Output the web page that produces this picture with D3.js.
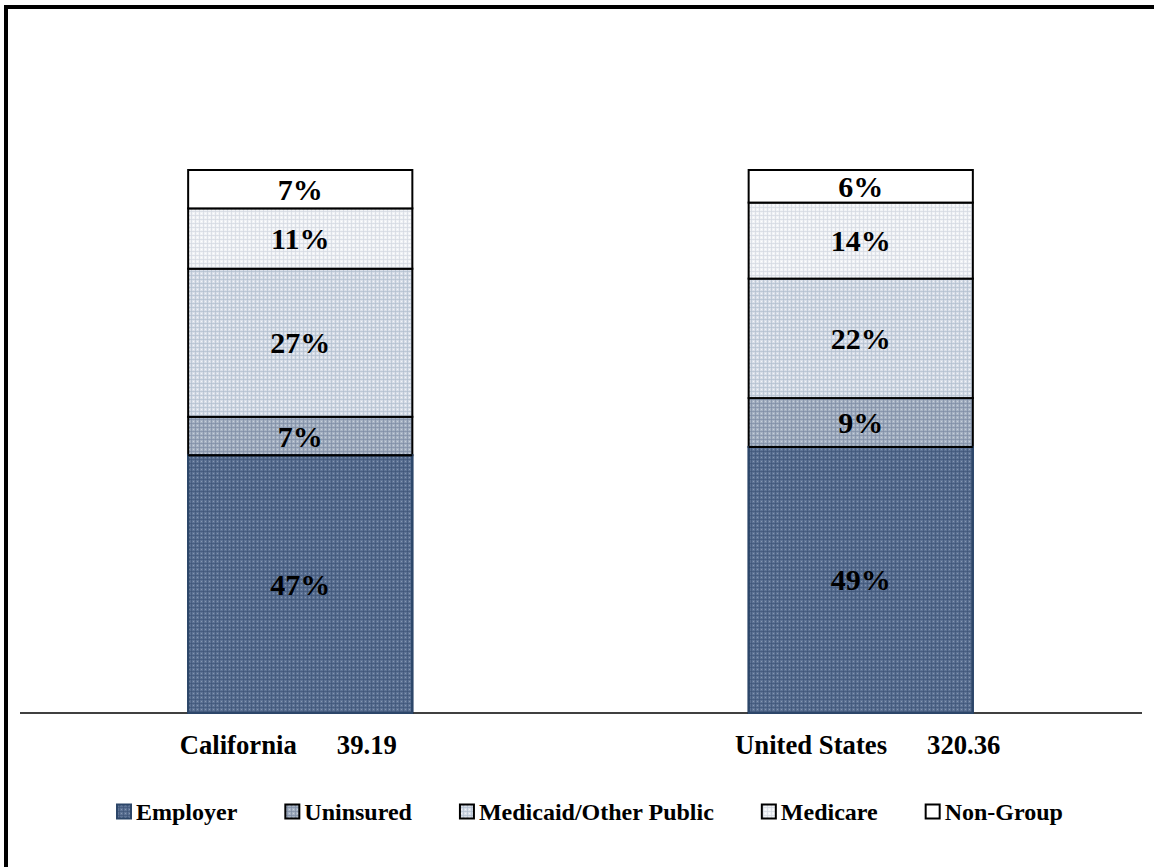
<!DOCTYPE html>
<html>
<head>
<meta charset="utf-8">
<script src="https://cdn.jsdelivr.net/npm/d3@7"></script>
<style>
  html, body { margin: 0; padding: 0; background: #fff; }
  svg { display: block; }
  text { font-family: "Times New Roman", "Liberation Serif", serif; font-weight: bold; fill: #000; }
</style>
</head>
<body>
<svg id="chart" width="1154" height="867"></svg>
<script>
// Coverage categories, bottom of the stack first
const series = ["Employer", "Uninsured", "Medicaid/Other Public", "Medicare", "Non-Group"];
const regions = ["California", "United States"];
const totals = ["39.19", "320.36"];   // population, millions
const employer = [47, 49];
const uninsured = [7, 9];
const medicaid = [27, 22];
const medicare = [11, 14];
const nonGroup = [7, 6];

const W = 1154, H = 867;
const svg = d3.select("#chart");

// Fill patterns for each coverage type
const fills = [
  { id: "pEmployer", base: "#5d7395", line: "#3f5679", dot: "#8797b1", stroke: "#2c4669" },
  { id: "pUninsured", base: "#a6b2c3", line: "#7f8ea5", dot: "#c7d0dc", stroke: "#000" },
  { id: "pMedicaid", base: "#d8dee8", line: "#b3bfcf", dot: "#f3f5f8", stroke: "#000" },
  { id: "pMedicare", base: "#f1f3f6", line: "#d3d9e2", dot: "#ffffff", stroke: "#000" },
  { id: "pNonGroup", base: "#ffffff", line: null, dot: null, stroke: "#000" }
];
const defs = svg.append("defs");
fills.forEach(f => {
  const p = defs.append("pattern").attr("id", f.id)
    .attr("patternUnits", "userSpaceOnUse").attr("width", 4).attr("height", 4);
  p.append("rect").attr("width", 4).attr("height", 4).attr("fill", f.base);
  if (f.line) {
    p.append("rect").attr("x", 0).attr("y", 3).attr("width", 4).attr("height", 1).attr("fill", f.line).attr("opacity", 0.7);
    p.append("rect").attr("x", 3).attr("y", 0).attr("width", 1).attr("height", 4).attr("fill", f.line).attr("opacity", 0.7);
    p.append("rect").attr("x", 1).attr("y", 1).attr("width", 1).attr("height", 1).attr("fill", f.dot);
  }
});

// Frame (top and left edges)
svg.append("line").attr("x1", 4).attr("x2", W).attr("y1", 7).attr("y2", 7).attr("stroke", "#000").attr("stroke-width", 4);
svg.append("line").attr("x1", 6).attr("x2", 6).attr("y1", 5).attr("y2", H).attr("stroke", "#000").attr("stroke-width", 4);

// Scales
const x = d3.scaleBand().domain(regions).range([20, 1141]).paddingInner(0.6).paddingOuter(0.3);
const y = d3.scaleLinear().domain([0, 1]).range([713, 170]);

// Stack rows, normalised to 100% per region
const rows = regions.map((r, i) => ({
  region: r,
  "Employer": employer[i],
  "Uninsured": uninsured[i],
  "Medicaid/Other Public": medicaid[i],
  "Medicare": medicare[i],
  "Non-Group": nonGroup[i]
}));
const stacked = d3.stack().keys(series).offset(d3.stackOffsetExpand)(rows);
const rawStack = d3.stack().keys(series)(rows);

const layers = svg.append("g").selectAll("g").data(stacked).join("g")
  .attr("fill", (d, i) => `url(#${fills[i].id})`)
  .attr("stroke", (d, i) => fills[i].stroke);

layers.selectAll("rect").data(d => d).join("rect")
  .attr("x", d => x(d.data.region))
  .attr("width", x.bandwidth())
  .attr("y", d => y(d[1]))
  .attr("height", d => y(d[0]) - y(d[1]))
  .attr("stroke-width", 2);

// Category axis line
svg.append("line").attr("x1", 20).attr("x2", 1142).attr("y1", 713).attr("y2", 713)
  .attr("stroke", "#000").attr("stroke-width", 1.5);

// Redraw employer outline on top of the axis
svg.append("g").selectAll("rect").data(stacked[0]).join("rect")
  .attr("x", d => x(d.data.region))
  .attr("width", x.bandwidth())
  .attr("y", d => y(d[1]))
  .attr("height", d => y(d[0]) - y(d[1]))
  .attr("fill", "none").attr("stroke", fills[0].stroke).attr("stroke-width", 2);
// top edge of the uninsured layer stays black
svg.append("g").selectAll("line").data(stacked[1]).join("line")
  .attr("x1", d => x(d.data.region)).attr("x2", d => x(d.data.region) + x.bandwidth())
  .attr("y1", d => y(d[0])).attr("y2", d => y(d[0]))
  .attr("stroke", "#000").attr("stroke-width", 2);

// Percentage labels
stacked.forEach((layer, li) => {
  svg.append("g").selectAll("text").data(layer).join("text")
    .attr("x", d => x(d.data.region) + x.bandwidth() / 2)
    .attr("y", d => (y(d[0]) + y(d[1])) / 2)
    .attr("text-anchor", "middle")
    .attr("dominant-baseline", "central")
    .attr("font-size", 30)
    .text((d, i) => rawStack[li][i].data[series[li]] + "%");
});

// Category labels with population totals
svg.append("g").selectAll("text").data(regions).join("text")
  .attr("x", (d, i) => x(d) + x.bandwidth() / 2 + (i === 0 ? -12 : 7))
  .attr("y", 754)
  .attr("text-anchor", "middle")
  .attr("font-size", 26.7)
  .attr("xml:space", "preserve")
  .style("white-space", "pre")
  .text((d, i) => d + "      " + totals[i]);

// Legend
const legend = svg.append("g");
let lx = 117;
const ly = 812;
series.forEach((s, i) => {
  const g = legend.append("g");
  g.append("rect").attr("x", lx).attr("y", ly - 7.5).attr("width", 14).attr("height", 14)
    .attr("fill", `url(#${fills[i].id})`)
    .attr("stroke", i === 0 ? fills[0].stroke : "#000").attr("stroke-width", 2);
  const t = g.append("text").attr("x", lx + 19).attr("y", ly)
    .attr("dominant-baseline", "central").attr("font-size", 24).text(s);
  lx += 19 + t.node().getComputedTextLength() + 48;
});
</script>
</body>
</html>
